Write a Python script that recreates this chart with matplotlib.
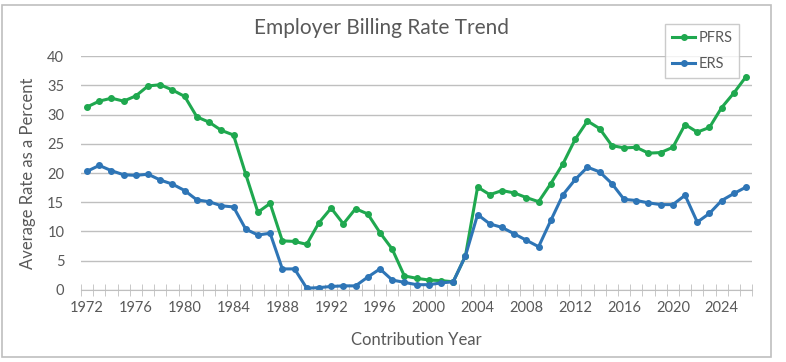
import matplotlib.pyplot as plt
from matplotlib.patches import Rectangle
from matplotlib.ticker import MultipleLocator, FixedLocator

plt.rcParams['font.family'] = ['Lato', 'DejaVu Sans']

# datos
anios = list(range(1972, 2027))
pfrs = [31.3, 32.3, 32.8, 32.3, 33.2, 34.9, 35.1, 34.2, 33.1, 29.6,
        28.7, 27.3, 26.5, 19.8, 13.3, 14.8, 8.4, 8.3, 7.8, 11.5,
        14.0, 11.3, 13.9, 13.0, 9.8, 7.0, 2.4, 2.0, 1.7, 1.6,
        1.4, 5.8, 17.6, 16.3, 17.0, 16.6, 15.8, 15.1, 18.2, 21.6,
        25.8, 28.9, 27.6, 24.7, 24.3, 24.4, 23.4, 23.5, 24.4, 28.3,
        27.0, 27.8, 31.2, 33.7, 36.5]
ers = [20.3, 21.3, 20.4, 19.7, 19.6, 19.8, 18.8, 18.1, 17.0, 15.4,
       15.1, 14.4, 14.2, 10.4, 9.4, 9.7, 3.6, 3.6, 0.3, 0.4,
       0.6, 0.7, 0.7, 2.2, 3.6, 1.7, 1.3, 0.9, 0.9, 1.2,
       1.4, 5.8, 12.9, 11.3, 10.7, 9.6, 8.5, 7.4, 11.9, 16.3,
       18.9, 21.0, 20.2, 18.2, 15.5, 15.3, 14.9, 14.6, 14.6, 16.2,
       11.6, 13.1, 15.3, 16.5, 17.6]
etiquetas = list(range(1972, 2027, 4))

gris = '#595959'
fig = plt.figure(figsize=(7.86, 3.62), dpi=100)
ax = fig.add_axes([0.103, 0.199, 0.854, 0.646])

ax.plot(anios, pfrs, color='#1fa84f', lw=2.2, marker='o', ms=4, label='PFRS')
ax.plot(anios, ers, color='#2e75b6', lw=2.2, marker='o', ms=4, label='ERS')

ax.set_xlim(1971.5, 2026.5)
ax.set_ylim(0, 40)
ax.yaxis.set_major_locator(MultipleLocator(5))
ax.grid(axis='y', color='#bfbfbf', lw=1)
ax.set_axisbelow(True)
ax.set_xticks(etiquetas)
ax.tick_params(axis='x', length=0, pad=8, colors=gris, labelsize=10.5)
ax.xaxis.set_minor_locator(FixedLocator([a + 0.5 for a in range(1971, 2027)]))
ax.tick_params(axis='x', which='minor', length=8, direction='inout', color='#bfbfbf')
ax.tick_params(axis='y', length=0, pad=12, colors=gris, labelsize=10.5)
for s in ['top', 'right', 'left']:
    ax.spines[s].set_visible(False)
ax.spines['bottom'].set_color('#bfbfbf')

fig.text(382 / 786, 1 - 28 / 362, 'Employer Billing Rate Trend', color=gris,
         fontsize=15, ha='center', va='center')
ax.set_xlabel('Contribution Year', color=gris, fontsize=12, labelpad=12)
ax.set_ylabel('Average Rate as a Percent', color=gris, fontsize=12, labelpad=8)

leg = ax.legend(loc='upper right', bbox_to_anchor=(0.981, 1.137), frameon=True,
                fancybox=False, fontsize=10.5, handlelength=1.6, handletextpad=0.2,
                labelspacing=0.8, borderpad=0.5, borderaxespad=0)
leg.get_frame().set_edgecolor('#bfbfbf')
for t in leg.get_texts():
    t.set_color(gris)

fig.patches.append(Rectangle((0.003, 0.014), 0.978, 0.972, transform=fig.transFigure,
                             fill=False, edgecolor='#bfbfbf', lw=1.2))

plt.savefig('out.png', dpi=100)
